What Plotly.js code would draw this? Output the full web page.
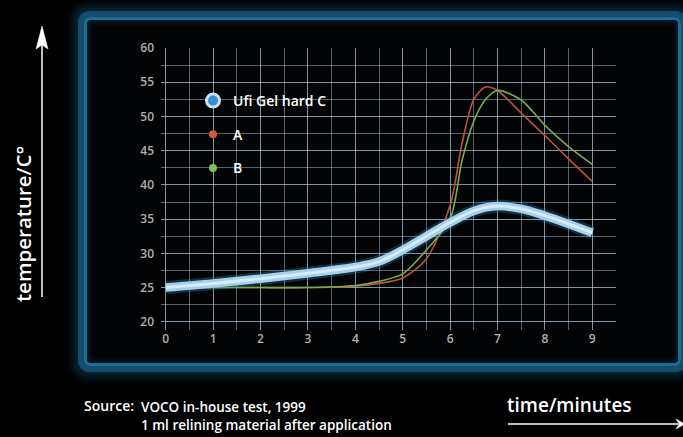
<!DOCTYPE html>
<html>
<head>
<meta charset="utf-8">
<script src="https://cdn.plot.ly/plotly-3.0.1.min.js"></script>
<style>
  html, body { margin: 0; padding: 0; background: #000; width: 683px; height: 437px; overflow: hidden; }
  #frame {
    position: absolute; left: 87px; top: 20px; width: 591px; height: 343px;
    background: #020304; border-radius: 4px;
    box-shadow: 0 0 0 3px rgb(30,108,145), 0 0 0 9px rgb(20,78,108), 0 0 10px 14px rgba(12,52,76,0.75), inset 0 0 6px 2px rgba(20,70,100,0.45);
  }
  #chart { position: absolute; left: 0; top: 0; width: 683px; height: 437px; }
</style>
</head>
<body>
<div id="frame"></div>
<div id="chart"></div>
<script>
// time in minutes
const timeC = [0, 1, 2, 3, 4, 4.5, 5, 5.5, 6, 6.5, 7, 7.5, 8, 8.5, 9];
const ufiGelHardC = [25, 25.6, 26.3, 27.1, 28, 28.8, 30.5, 32.5, 34.5, 36.2, 36.9, 36.5, 35.5, 34.3, 33];

const timeAB = [0, 1, 2, 3, 4, 4.5, 5, 5.5, 6, 6.25, 6.5, 6.75, 7, 7.5, 8, 8.5, 9];
const seriesA = [25, 25, 25, 25, 25.2, 25.6, 26.4, 29.2, 37, 46, 52.5, 54.3, 53.8, 50.5, 47.2, 43.8, 40.5];
const seriesB = [25, 25, 25, 25, 25.3, 25.9, 27, 30.5, 35, 43.5, 49.3, 52.5, 53.8, 52.4, 48.7, 45.6, 43];

const seriesNames = ['Ufi Gel hard C', 'A', 'B'];
const xTicks = [0, 1, 2, 3, 4, 5, 6, 7, 8, 9];
const yTicks = [20, 25, 30, 35, 40, 45, 50, 55, 60];
const sourceLines = ['VOCO in-house test, 1999', '1 ml relining material after application'];

// plot area in pixels (for positioning decorations in paper coords)
const L = 161, T = 48, W = 455, H = 282;
const px = x => (x - L) / W;
const py = y => (T + H - y) / H;

const traces = [
  { x: timeAB, y: seriesA, mode: 'lines', line: { color: 'rgb(190,82,60)', width: 1.6, shape: 'spline', smoothing: 0.8 }, showlegend: false, hoverinfo: 'skip' },
  { x: timeAB, y: seriesB, mode: 'lines', line: { color: 'rgb(118,172,78)', width: 1.6, shape: 'spline', smoothing: 0.8 }, showlegend: false, hoverinfo: 'skip' },
  { x: timeC, y: ufiGelHardC, mode: 'lines', line: { color: 'rgba(70,150,205,0.3)', width: 13, shape: 'spline' }, showlegend: false, hoverinfo: 'skip' },
  { x: timeC, y: ufiGelHardC, mode: 'lines', line: { color: 'rgb(165,208,234)', width: 8.5, shape: 'spline' }, showlegend: false, hoverinfo: 'skip' },
  { x: timeC, y: ufiGelHardC, mode: 'lines', line: { color: 'rgba(236,246,253,0.7)', width: 3, shape: 'spline' }, showlegend: false, hoverinfo: 'skip' },
  // legend entries
  { x: [null], y: [null], mode: 'markers', name: seriesNames[0], legendgroup: 'c', marker: { size: 13, color: 'rgb(55,140,210)', line: { color: 'rgb(200,226,244)', width: 3 } } },
  { x: [null], y: [null], mode: 'markers', name: seriesNames[1], legendgroup: 'a', marker: { size: 8, color: 'rgb(212,88,60)' } },
  { x: [null], y: [null], mode: 'markers', name: seriesNames[2], legendgroup: 'b', marker: { size: 8, color: 'rgb(132,192,90)' } }
];

const gridCol = 'rgba(165,198,218,0.5)';
const tickFont = { family: 'Open Sans, sans-serif', size: 12, color: '#b0b0b0', weight: 600 };
const white = '#ffffff';
const txtFont = s => ({ family: 'Open Sans, sans-serif', size: s, color: white, weight: 600 });

const layout = {
  width: 683, height: 437,
  margin: { l: L, r: 683 - L - W, t: T, b: 437 - T - H, pad: 0 },
  paper_bgcolor: 'rgba(0,0,0,0)',
  plot_bgcolor: 'rgba(0,0,0,0)',
  showlegend: true,
  legend: {
    x: px(193), y: py(85), xanchor: 'left', yanchor: 'top',
    bgcolor: 'rgba(0,0,0,0)', borderwidth: 0,
    traceorder: 'grouped', tracegroupgap: 12.5,
    font: txtFont(14)
  },
  xaxis: {
    range: [-0.1, 9.5], tickvals: xTicks, ticktext: xTicks.map(String),
    showgrid: true, gridcolor: gridCol, gridwidth: 1, zeroline: false, showline: false,
    minor: { dtick: 0.5, showgrid: true, gridcolor: gridCol, gridwidth: 1 },
    ticks: '', tickfont: tickFont, ticklabelstandoff: 0, fixedrange: true
  },
  yaxis: {
    range: [18.8, 60], tickvals: yTicks, ticktext: yTicks.map(String),
    showgrid: true, gridcolor: gridCol, gridwidth: 1, zeroline: false, showline: false,
    minor: { dtick: 2.5, showgrid: true, gridcolor: gridCol, gridwidth: 1 },
    ticks: '', tickfont: tickFont, ticklabelstandoff: 6, fixedrange: true
  },
  shapes: [
    // y-axis arrow
    { type: 'line', xref: 'paper', yref: 'paper', x0: px(42), x1: px(42), y0: py(297), y1: py(44), line: { color: white, width: 1.5 } },
    { type: 'path', xref: 'paper', yref: 'paper', fillcolor: white, line: { color: white, width: 0.5 },
      path: `M ${px(42)} ${py(26)} L ${px(48)} ${py(49)} L ${px(42)} ${py(45)} L ${px(36)} ${py(49)} Z` },
    // x-axis arrow
    { type: 'line', xref: 'paper', yref: 'paper', x0: px(508), x1: px(678), y0: py(424), y1: py(424), line: { color: white, width: 1.5 } },
    { type: 'path', xref: 'paper', yref: 'paper', fillcolor: white, line: { color: white, width: 0.5 },
      path: `M ${px(685)} ${py(424)} L ${px(676)} ${py(419)} L ${px(679)} ${py(424)} L ${px(676)} ${py(429)} Z` }
  ],
  annotations: [
    { text: 'temperature/C°', xref: 'paper', yref: 'paper', x: px(23), y: py(224), textangle: -90, showarrow: false,
      xanchor: 'center', yanchor: 'middle', font: txtFont(20.5) },
    { text: 'time/minutes', xref: 'paper', yref: 'paper', x: px(505), y: py(405), showarrow: false,
      xanchor: 'left', yanchor: 'middle', font: txtFont(19) },
    { text: 'Source:', xref: 'paper', yref: 'paper', x: px(82), y: py(405), showarrow: false,
      xanchor: 'left', yanchor: 'middle', font: txtFont(14) },
    { text: sourceLines.join('<br>'), xref: 'paper', yref: 'paper', x: px(139), y: py(396), showarrow: false,
      xanchor: 'left', yanchor: 'top', align: 'left', font: txtFont(13.5) }
  ]
};

Plotly.newPlot('chart', traces, layout, { staticPlot: true, displayModeBar: false });
</script>
</body>
</html>
